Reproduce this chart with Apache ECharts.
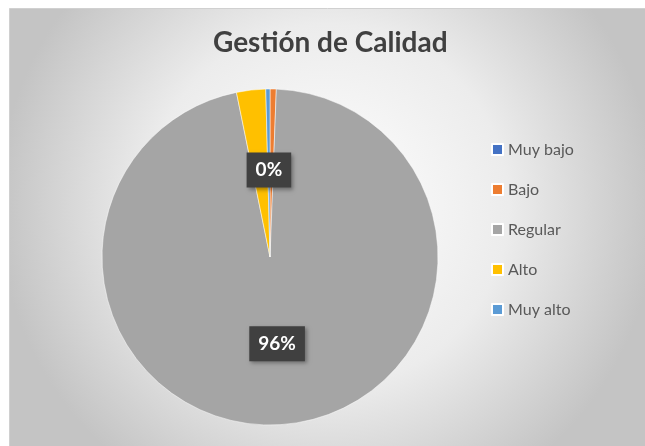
<!DOCTYPE html>
<html>
<head>
<meta charset="utf-8">
<script src="https://cdn.jsdelivr.net/npm/echarts@6/dist/echarts.min.js"></script>
<style>
  html, body { margin: 0; padding: 0; background: #fff; }
  #chart { width: 645px; height: 446px; }
</style>
</head>
<body>
<div id="chart"></div>
<script>
// categories and values (percent of responses)
const categories = ['Muy bajo', 'Bajo', 'Regular', 'Alto', 'Muy alto'];
const values = [0, 0.6, 96.2, 2.8, 0.4];
const colors = ['#4472C4', '#ED7D31', '#A5A5A5', '#FFC000', '#5B9BD5'];
// which slices carry a data label
const labelled = [false, false, true, false, true];

const chartDom = document.getElementById('chart');
const myChart = echarts.init(chartDom);

const pieData = categories.map((name, i) => ({
    name: name,
    value: values[i],
    itemStyle: { color: colors[i] },
    label: { show: labelled[i] }
}));

const option = {
    animation: false,
    graphic: [{
        type: 'rect',
        left: 9,
        top: 8,
        z: -10,
        silent: true,
        shape: { width: 636, height: 438 },
        style: {
            fill: new echarts.graphic.RadialGradient(0.5, 0.45, 0.75, [
                { offset: 0, color: '#ffffff' },
                { offset: 0.55, color: '#ececec' },
                { offset: 1, color: '#c4c4c4' }
            ]),
            stroke: '#d0d0d0',
            lineWidth: 1
        }
    }],
    title: {
        text: 'Gestión de Calidad',
        left: 208,
        top: 24,
        textStyle: {
            fontFamily: 'Lato',
            fontSize: 28,
            fontWeight: 'bold',
            color: '#404040'
        }
    },
    legend: {
        orient: 'vertical',
        left: 486,
        top: 136,
        itemWidth: 11,
        itemHeight: 11,
        itemGap: 23,
        icon: 'rect',
        data: categories,
        textStyle: {
            fontFamily: 'Lato',
            fontSize: 16,
            lineHeight: 17,
            color: '#595959'
        }
    },
    series: [{
        type: 'pie',
        center: [270, 257],
        radius: 168,
        startAngle: 90,
        clockwise: true,
        avoidLabelOverlap: false,
        itemStyle: { borderColor: '#ffffff', borderWidth: 0.5 },
        label: {
            position: 'inside',
            formatter: p => Math.round(p.value) + '%',
            fontFamily: 'Lato',
            fontSize: 19,
            fontWeight: 'bold',
            color: '#ffffff',
            backgroundColor: '#404040',
            padding: [9, 9, 7, 9],
            shadowColor: 'rgba(0,0,0,0.35)',
            shadowBlur: 4,
            shadowOffsetX: 2,
            shadowOffsetY: 2
        },
        labelLine: { show: false },
        emphasis: { disabled: true },
        data: pieData
    }]
};

myChart.setOption(option);
</script>
</body>
</html>
